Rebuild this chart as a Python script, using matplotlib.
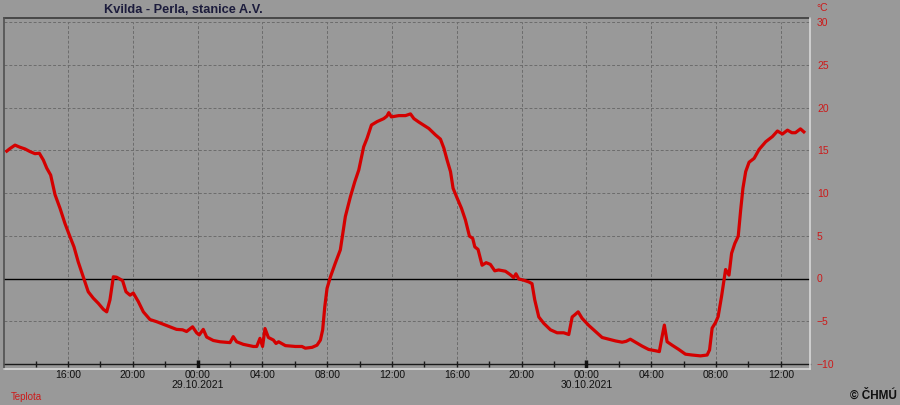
"""Air temperature at Kvilda - Perla, 28.-30.10.2021, in the CHMU station-chart look."""

import matplotlib
matplotlib.use("Agg")
import matplotlib.pyplot as plt
import matplotlib.dates as mdates
from matplotlib.lines import Line2D
import pandas as pd

# hours since 28.10.2021 12:00 and temperature in degrees C
HOURS = [0.22, 0.42, 0.73, 1.04, 1.35, 1.65, 1.96, 2.23, 2.48, 2.69, 2.93, 3.2,
         3.51, 3.81, 4.12, 4.37, 4.63, 4.94, 5.25, 5.56, 5.87, 6.18, 6.39, 6.59,
         6.8, 7.0, 7.37, 7.58, 7.83, 8.03, 8.34, 8.65, 9.06, 9.47, 9.88, 10.3,
         10.7, 11.07, 11.32, 11.69, 11.94, 12.1, 12.35, 12.56, 12.97, 13.38,
         14.0, 14.2, 14.41, 14.82, 15.44, 15.65, 15.85, 16.01, 16.16, 16.37,
         16.68, 16.84, 17.0, 17.42, 18.04, 18.44, 18.65, 19.07, 19.37, 19.58,
         19.72, 19.85, 19.99, 20.2, 20.5, 20.81, 21.12, 21.43, 21.7, 21.95,
         22.25, 22.46, 22.73, 23.08, 23.49, 23.69, 23.8, 23.96, 24.42, 24.83,
         25.14, 25.35, 25.65, 26.27, 26.68, 26.99, 27.2, 27.4, 27.61, 27.77,
         28.02, 28.29, 28.53, 28.78, 28.98, 29.11, 29.31, 29.56, 29.81, 30.07,
         30.34, 30.58, 31.0, 31.3, 31.51, 31.65, 31.82, 32.13, 32.44, 32.64,
         32.81, 33.06, 33.37, 33.78, 34.19, 34.6, 34.91, 35.12, 35.28, 35.49,
         35.73, 36.15, 36.56, 36.97, 37.38, 37.79, 38.2, 38.45, 38.71, 39.02,
         39.43, 39.84, 40.26, 40.5, 40.67, 40.81, 40.98, 41.29, 41.7, 42.11,
         42.52, 43.04, 43.45, 43.6, 43.76, 43.97, 44.13, 44.34, 44.59, 44.8,
         44.96, 45.16, 45.37, 45.52, 45.66, 45.83, 46.04, 46.35, 46.66, 47.07,
         47.48, 47.79, 48.1, 48.41, 48.68, 48.9, 49.21, 49.42]
TEMP = [14.9, 15.2, 15.6, 15.35, 15.15, 14.85, 14.6, 14.65, 13.85, 12.9, 12.1, 9.8,
        8.2, 6.45, 4.9, 3.7, 1.95, 0.2, -1.55, -2.3, -2.9, -3.6, -3.9, -2.5,
        0.2, 0.15, -0.25, -1.55, -1.95, -1.7, -2.7, -3.9, -4.8, -5.05, -5.35, -5.65,
        -5.95, -6.0, -6.2, -5.65, -6.35, -6.6, -5.95, -6.85, -7.25, -7.4,
        -7.5, -6.8, -7.4, -7.7, -7.95, -7.95, -7.0, -7.95, -5.85, -6.9,
        -7.2, -7.6, -7.4, -7.85, -7.95, -7.95, -8.15, -8.05, -7.8, -7.2,
        -6.0, -3.3, -1.15, 0.2, 1.8, 3.35, 7.25, 9.55, 11.3, 12.7,
        15.4, 16.4, 17.95, 18.35, 18.7, 19.0, 19.4, 18.9, 19.05, 19.05,
        19.25, 18.7, 18.3, 17.55, 16.8, 16.3, 15.25, 13.85, 12.5, 10.55,
        9.4, 8.2, 6.85, 4.95, 4.7, 3.7, 3.4, 1.55, 1.85, 1.65,
        0.9, 1.0, 0.85, 0.45, 0.1, 0.55, -0.05, -0.2, -0.4, -0.6,
        -2.5, -4.5, -5.25, -6.0, -6.35, -6.35, -6.55, -4.5, -4.25, -3.9,
        -4.65, -5.5, -6.2, -6.9, -7.1, -7.3, -7.45, -7.35, -7.1, -7.45,
        -7.9, -8.3, -8.45, -8.55, -6.8, -5.45, -7.4, -7.8, -8.3, -8.85,
        -8.95, -9.05, -8.95, -8.35, -5.8, -5.15, -4.45, -2.1, 1.05, 0.4,
        2.95, 4.1, 4.95, 8.0, 10.55, 12.5, 13.6, 14.05, 15.1, 16.0,
        16.6, 17.25, 16.9, 17.35, 17.05, 17.05, 17.5, 17.15]

START = pd.Timestamp("2021-10-28 12:00")
X_END_HOURS = 49.8
Y_TICKS = [30, 25, 20, 15, 10, 5, 0, -5, -10]
MIDNIGHTS = [pd.Timestamp("2021-10-29 00:00"), pd.Timestamp("2021-10-30 00:00")]

BG = "#999999"
RED = "#d40000"
LABEL_RED = "#cc1a1a"

plt.rcParams["font.family"] = ["Liberation Sans", "DejaVu Sans"]

W, H = 900, 405
fig = plt.figure(figsize=(9, 4.05), dpi=100, facecolor=BG)
ax = fig.add_axes([4 / W, 1 - 364 / H, 806 / W, 342 / H], facecolor=BG)

times = START + pd.to_timedelta(HOURS, unit="h")
ax.plot(times, TEMP, color=RED, linewidth=2.3, solid_joinstyle="round", zorder=4)

ax.set_xlim(START + pd.Timedelta(hours=0.05), START + pd.Timedelta(hours=X_END_HOURS))
ax.set_ylim(-10, 30)

# grid
ax.set_yticks(Y_TICKS)
ax.xaxis.set_major_locator(mdates.HourLocator(byhour=range(0, 24, 4)))
ax.xaxis.set_minor_locator(mdates.HourLocator(byhour=range(2, 24, 4)))
ax.xaxis.set_major_formatter(mdates.DateFormatter("%H:%M"))
ax.grid(True, which="major", color="#6c6c6c", linestyle=(0, (3, 2)), linewidth=0.7)
ax.axhline(0, color="black", linewidth=1.0, zorder=3)

# axes look
for s in ("top", "right", "left"):
    ax.spines[s].set_visible(False)
ax.spines["bottom"].set_color("#1a1a1a")
ax.spines["bottom"].set_linewidth(1.0)
ax.spines["bottom"].set_zorder(5)
ax.tick_params(axis="x", which="both", direction="inout", length=5, width=1,
               color="#1a1a1a", labelsize=7.5, labelcolor="#111111", pad=2)
ax.tick_params(axis="y", which="both", length=0, labelleft=False, labelright=True,
               labelsize=7.5, labelcolor=LABEL_RED, pad=5)
for lab in ax.get_yticklabels():
    lab.set_horizontalalignment("left")

# thicker midnight ticks and the dates under them
ax.vlines(MIDNIGHTS, -0.012, 0.012, transform=ax.get_xaxis_transform(),
          color="#111111", linewidth=2.5, clip_on=False, zorder=6)
for m in MIDNIGHTS:
    ax.text(m, -0.048, m.strftime("%d.%m.%Y"), transform=ax.get_xaxis_transform(),
            ha="center", va="top", fontsize=7.5, color="#111111")

# sunken frame
def fline(x0, y0, x1, y1, color):
    fig.add_artist(Line2D([x0 / W, x1 / W], [1 - y0 / H, 1 - y1 / H],
                          color=color, linewidth=1.2, transform=fig.transFigure))

fline(4, 18, 810, 18, "#3a3a3a")
fline(4, 18, 4, 369, "#505050")
fline(810, 18, 810, 369, "#d8d8d8")
fline(4, 369, 810, 369, "#d8d8d8")

# texts
fig.text(183 / W, 1 - 10 / H, "Kvilda - Perla, stanice A.V.", ha="center", va="center",
         fontsize=9.2, fontweight="bold", color="#1c1c3c")
fig.text(816 / W, 1 - 8 / H, "°C", ha="left", va="center", fontsize=7.5, color=LABEL_RED)
fig.text(11 / W, 1 - 396.5 / H, "Teplota", ha="left", va="center", fontsize=7, color=LABEL_RED)
fig.text(897 / W, 1 - 396 / H, "© ČHMÚ", ha="right", va="center", fontsize=8.5,
         fontweight="bold", color="#111111")

fig.savefig("out.png", dpi=100, facecolor=BG)
